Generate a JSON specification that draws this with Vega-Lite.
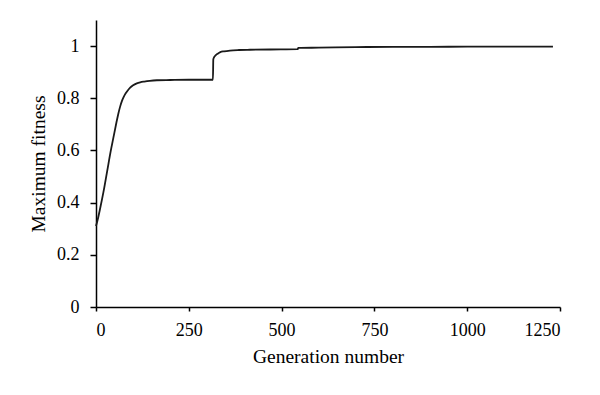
{
  "$schema": "https://vega.github.io/schema/vega-lite/v6.json",
  "autosize": "none",
  "width": 464,
  "height": 287,
  "padding": {"left": 96, "top": 20, "right": 40, "bottom": 88},
  "background": "white",
  "config": {
    "view": {"stroke": null},
    "font": "Liberation Serif",
    "axis": {
      "grid": false,
      "domainColor": "black",
      "domainWidth": 1.5,
      "tickColor": "black",
      "tickWidth": 1.5,
      "labelColor": "black",
      "titleColor": "black",
      "labelFont": "Liberation Serif",
      "titleFont": "Liberation Serif",
      "labelFontSize": 18,
      "titleFontSize": 19.5,
      "titleFontWeight": "normal"
    }
  },
  "data": {
    "values": [
      {"gen": 0, "fit": 0.31},
      {"gen": 4, "fit": 0.331},
      {"gen": 10, "fit": 0.37},
      {"gen": 20, "fit": 0.44},
      {"gen": 30, "fit": 0.52},
      {"gen": 40, "fit": 0.60},
      {"gen": 47, "fit": 0.65},
      {"gen": 55, "fit": 0.707},
      {"gen": 60, "fit": 0.74},
      {"gen": 65, "fit": 0.768},
      {"gen": 70, "fit": 0.79},
      {"gen": 75, "fit": 0.806},
      {"gen": 80, "fit": 0.819},
      {"gen": 86, "fit": 0.831},
      {"gen": 92, "fit": 0.841},
      {"gen": 100, "fit": 0.850},
      {"gen": 110, "fit": 0.857},
      {"gen": 119, "fit": 0.861},
      {"gen": 130, "fit": 0.864},
      {"gen": 145, "fit": 0.867},
      {"gen": 164, "fit": 0.869},
      {"gen": 200, "fit": 0.870},
      {"gen": 250, "fit": 0.871},
      {"gen": 300, "fit": 0.871},
      {"gen": 315, "fit": 0.871},
      {"gen": 316, "fit": 0.949},
      {"gen": 318, "fit": 0.957},
      {"gen": 322, "fit": 0.964},
      {"gen": 328, "fit": 0.971},
      {"gen": 335, "fit": 0.977},
      {"gen": 345, "fit": 0.980},
      {"gen": 361, "fit": 0.983},
      {"gen": 385, "fit": 0.985},
      {"gen": 415, "fit": 0.986},
      {"gen": 470, "fit": 0.987},
      {"gen": 543, "fit": 0.988},
      {"gen": 545, "fit": 0.993},
      {"gen": 600, "fit": 0.994},
      {"gen": 700, "fit": 0.996},
      {"gen": 800, "fit": 0.997},
      {"gen": 900, "fit": 0.997},
      {"gen": 1000, "fit": 0.998},
      {"gen": 1100, "fit": 0.998},
      {"gen": 1231, "fit": 0.998}
    ]
  },
  "mark": {"type": "line", "color": "#1a1a1a", "strokeWidth": 1.8, "interpolate": "monotone"},
  "encoding": {
    "x": {
      "field": "gen",
      "type": "quantitative",
      "scale": {"domain": [0, 1250], "nice": false},
      "axis": {
        "title": "Generation number",
        "values": [0, 250, 500, 750, 1000, 1250],
        "format": "d",
        "tickSize": 4,
        "labelPadding": 10,
        "titlePadding": 8
      }
    },
    "y": {
      "field": "fit",
      "type": "quantitative",
      "scale": {"domain": [0, 1.1], "nice": false},
      "axis": {
        "title": "Maximum fitness",
        "values": [0, 0.2, 0.4, 0.6, 0.8, 1],
        "labelExpr": "format(datum.value, '~g')",
        "tickSize": 6,
        "labelPadding": 11,
        "titlePadding": 8
      }
    }
  }
}
